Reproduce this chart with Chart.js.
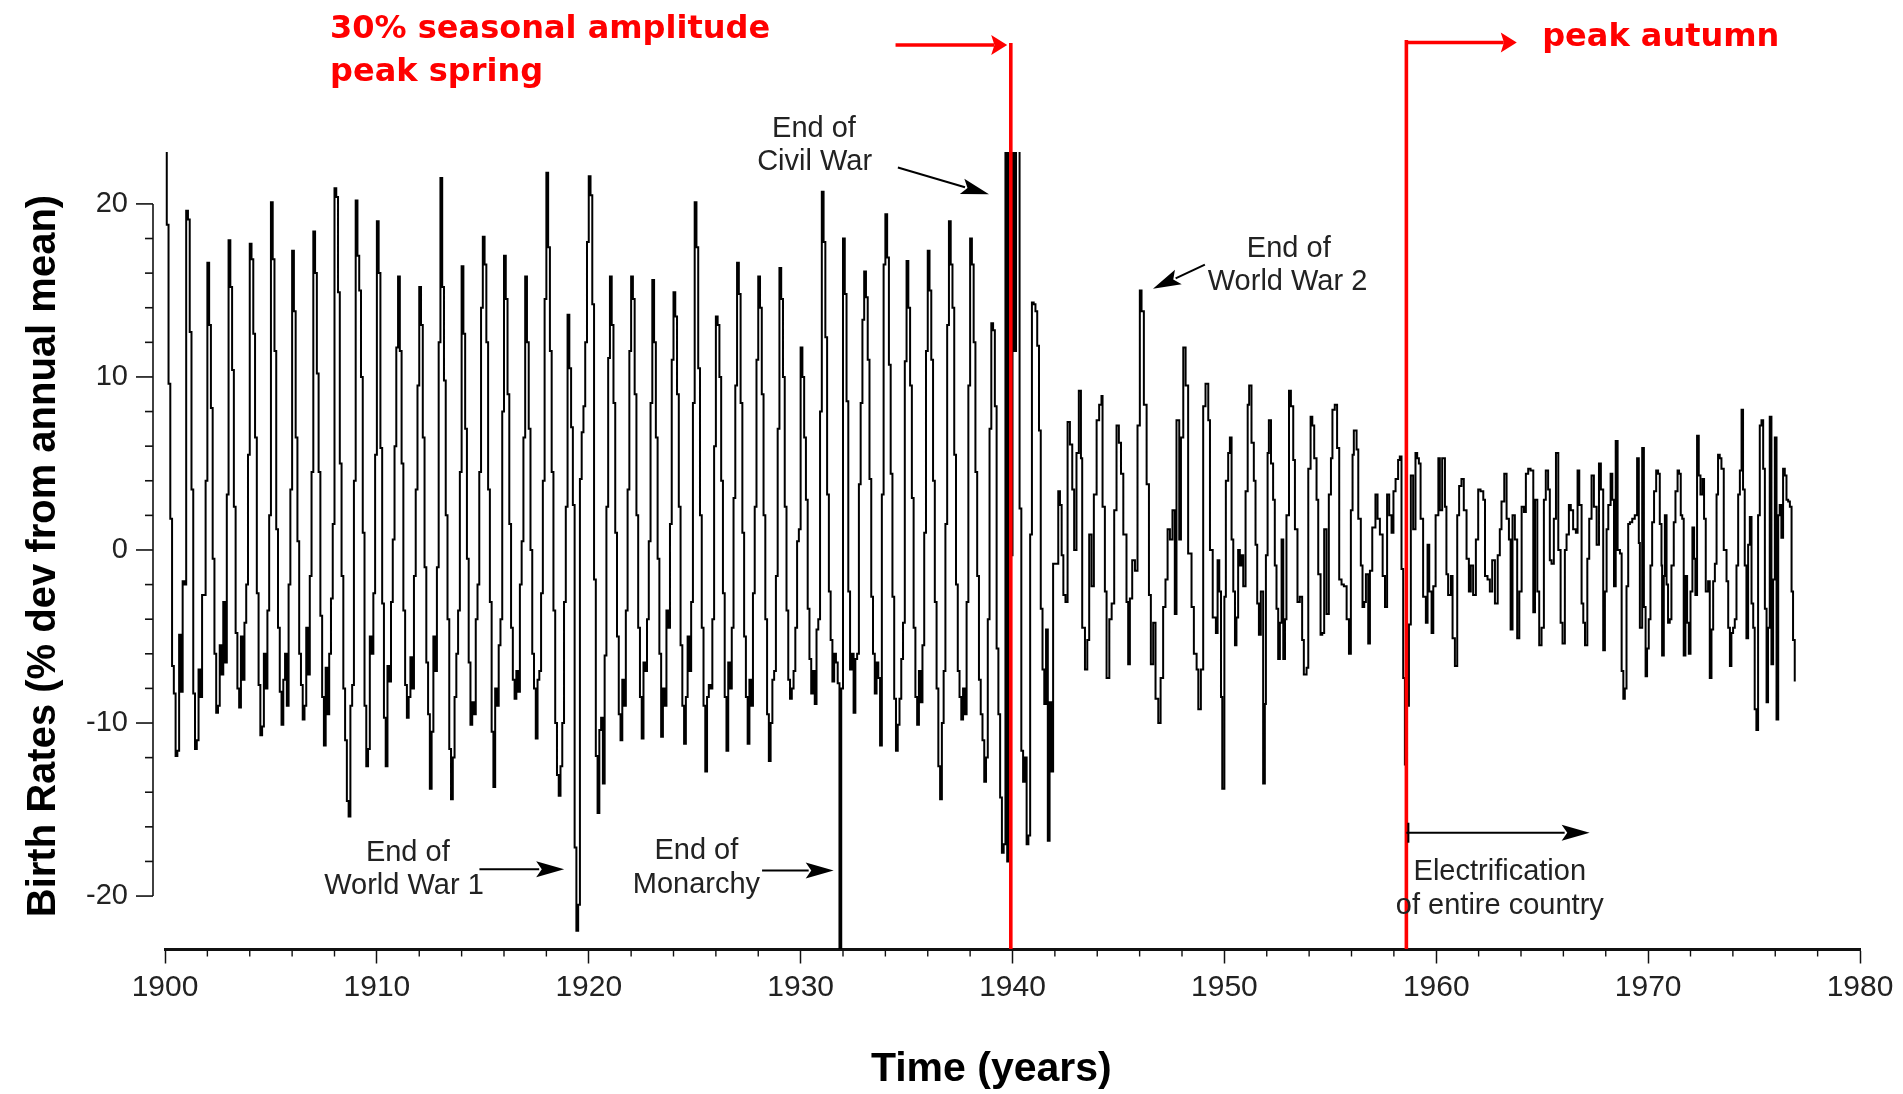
<!DOCTYPE html>
<html>
<head>
<meta charset="utf-8">
<script src="https://cdn.jsdelivr.net/npm/chart.js@4.4.1/dist/chart.umd.min.js"></script>
<style>
html,body{margin:0;padding:0;background:#fff;overflow:hidden;}
canvas{display:block;}
</style>
</head>
<body>
<canvas id="c" width="1903" height="1094"></canvas>
<script>
// ---------- DATA ----------
const START_YEAR = 1900; // monthly series 1900-01 .. 1941-12
const y1900s = [
  25, 18.8, 9.6, 1.8, -6.7, -8.3, -11.9, -11.6, -4.9, -8.2, -1.8, -2.0,
  19.6, 19.1, 12.6, 3.5, -8.3, -11.5, -11.0, -6.9, -8.5, -2.6, -2.6, 4.0,
  16.6, 13.0, 8.2, -0.5, -6.0, -9.4, -9.0, -5.5, -7.2, -3.0, -6.5, 3.2,
  17.9, 15.2, 10.4, 2.5, -4.8, -8.0, -9.1, -5.0, -7.5, -4.2, -2.0, 5.5,
  17.7, 16.8, 12.5, 6.5, -2.5, -7.8, -10.7, -10.2, -6.0, -8.0, -3.5, 2.0,
  20.1, 16.8, 11.5, 1.2, -4.5, -8.2, -10.1, -7.5, -6.0, -9.0, -2.0, 3.5,
  17.3, 13.8, 6.5, 0.5, -6.0, -7.8, -9.8, -9.0, -4.5, -7.2, -1.5, 4.5,
  18.4, 16.0, 10.2, 4.5, -3.8, -8.5, -11.3, -6.8, -9.5, -6.0, -2.8, 1.5,
  20.9, 20.4, 14.9, 5.0, -1.5, -8.0, -11.0, -14.5, -15.4, -9.0, -7.8, 4.0,
  20.2, 17.0, 15.0, 10.0, 1.0, -9.0, -12.5, -11.5, -5.0, -6.0, -2.5, 5.5
];
const y1910s = [
  19.0, 16.0, 5.9, -3.1, -9.7, -12.5, -6.7, -7.6, -3.0, 0.6, 6.0, 11.7,
  15.8, 11.5, 5.0, -3.5, -7.8, -9.7, -8.5, -6.2, -8.0, -1.5, 3.5, 9.5,
  15.2, 13.0, 6.5, -1.0, -6.5, -9.5, -13.8, -10.5, -5.0, -7.0, -1.0, 12.0,
  21.5, 15.2, 9.8, 2.0, -4.0, -11.5, -14.4, -12.0, -8.5, -6.0, -3.5, 4.5,
  16.4, 12.5, 7.0, -0.5, -6.5, -10.1, -8.8, -9.5, -4.0, -2.0, 4.5, 14.0,
  18.1, 16.5, 12.0, 3.5, -3.0, -10.5, -13.7, -8.0, -9.0, -5.5, -4.0, 8.0,
  17.0, 14.5, 9.0, 1.5, -4.5, -7.5, -8.6, -7.0, -8.2, -2.0, 0.5, 6.5,
  15.8, 12.0, 7.0, 0.0, -6.0, -8.0, -10.9, -7.5, -7.0, -2.5, 4.0, 14.5,
  21.8, 17.5, 11.5, 4.5, -3.5, -10.0, -13.0, -14.2, -12.5, -10.0, -3.0, 2.5,
  13.6, 10.5, 7.1, 2.6, -17.2, -22.0, -20.5, 4.1, 6.8, 8.3, 12.0, 17.8
];
const y1920s = [
  21.6, 20.5, 14.2, -1.7, -11.9, -15.2, -10.4, -9.7, -13.5, -6.1, 2.5, 11.1,
  15.8, 13.0, 8.5, 1.0, -5.0, -9.5, -11.0, -7.5, -9.0, -3.5, 3.5, 11.5,
  15.8, 14.5, 9.0, 2.0, -4.5, -8.5, -10.9, -6.5, -7.0, -4.0, 0.5, 8.5,
  15.6, 12.0, 6.5, -0.5, -6.0, -10.8, -8.0, -9.0, -3.5, -4.5, 1.5, 11.0,
  14.9, 13.5, 9.0, 2.5, -5.5, -9.0, -11.2, -8.5, -5.0, -7.0, -3.0, 8.5,
  20.1, 17.5, 10.5, 2.0, -4.5, -9.0, -12.8, -8.5, -7.8, -8.0, -4.0, 6.0,
  13.5, 13.0, 10.0, 4.0, -2.5, -8.5, -11.6, -6.5, -8.0, -4.5, 3.0, 9.5,
  16.6, 14.8, 8.5, 1.0, -5.0, -8.5, -11.2, -7.5, -9.0, -2.5, 2.5, 11.0,
  15.8, 14.0, 9.0, 2.0, -4.0, -9.5, -12.2, -10.0, -7.5, -7.0, -1.5, 7.0,
  16.3, 14.5, 10.0, 2.5, -3.5, -7.5, -8.6, -8.0, -7.0, -4.5, 0.5, 1.2
];
const y1930s = [
  11.7, 10.0, 6.5, 2.9, -3.4, -6.3, -8.3, -7.0, -8.9, -4.6, -4.0, 8.0,
  20.7, 17.8, 12.3, 3.2, -2.4, -5.2, -7.6, -6.0, -6.5, -7.7, -30, -8.0,
  18.0, 14.8, 8.6, -2.4, -6.9, -6.0, -9.4, -6.3, -6.0, 3.8, 8.5, 13.3,
  16.1, 14.6, 11.0, 4.1, -2.7, -6.0, -8.3, -6.5, -7.4, -11.3, 3.2, 16.5,
  19.4, 16.9, 10.7, 4.4, -2.7, -8.6, -11.6, -10.1, -8.6, -6.3, -4.2, 10.9,
  16.7, 14.0, 9.5, 3.0, -4.5, -8.5, -10.1, -7.0, -8.8, -5.5, 1.0, 11.5,
  17.3, 15.0, 11.0, 4.0, -3.0, -8.0, -12.5, -14.4, -10.0, -7.0, 1.5, 13.0,
  19.0, 16.5, 14.0, 5.5, -2.0, -7.0, -8.5, -9.8, -8.0, -9.5, -3.0, 9.5,
  18.0, 16.5, 12.0, 4.5, -1.5, -7.5, -9.5, -11.0, -13.4, -12.0, -4.0, 7.0,
  13.1, 12.7, 8.3, -5.7, -9.5, -14.3, -17.5, -17.0, 30, -18.0, 30, -0.3
];
const y1940s = [
  30, 11.5, 30, 30, 2.4, -11.6, -13.4, -12.0, -17.0, -16.5, 0.9, 14.3,
  14.2, 13.8, 11.8, 6.9, -3.4, -6.9, -8.9, -4.6, -16.8, -8.8, -12.8, -0.8
];
// 1942 onwards: readings at the time (fractional year) where each step starts
const lateYears = [
  1942.16,1942.24,1942.32,1942.40,1942.50,1942.60,1942.71,1942.82,1942.91,
  1943.02,1943.13,1943.23,1943.29,1943.42,1943.53,1943.62,1943.73,1943.84,1943.97,
  1944.09,1944.20,1944.25,1944.36,1944.44,1944.57,1944.68,1944.80,1944.91,
  1945.02,1945.12,1945.23,1945.38,1945.46,1945.54,1945.65,1945.78,1945.90,
  1946.01,1946.09,1946.20,1946.33,1946.44,1946.53,1946.64,1946.75,1946.88,1946.99,
  1947.11,1947.22,1947.32,1947.43,1947.55,1947.66,1947.74,1947.87,1947.95,
  1948.06,1948.17,1948.29,1948.45,1948.56,1948.69,1948.77,1948.89,
  1949.00,1949.11,1949.24,1949.32,1949.45,1949.60,1949.68,1949.76,1949.84,1949.90,
  1950.00,1950.07,1950.18,1950.26,1950.34,1950.42,1950.50,1950.57,1950.65,1950.73,1950.81,1950.89,
  1951.00,1951.10,1951.17,1951.28,1951.39,1951.47,1951.55,1951.63,1951.72,1951.83,1951.91,1951.96,
  1952.04,1952.10,1952.20,1952.30,1952.38,1952.46,1952.54,1952.62,1952.70,1952.78,1952.86,1952.93,
  1953.05,1953.14,1953.25,1953.33,1953.45,1953.56,1953.67,1953.75,1953.88,1953.96,
  1954.07,1954.15,1954.24,1954.35,1954.43,1954.54,1954.62,1954.71,1954.82,1954.93,
  1955.03,1955.10,1955.21,1955.32,1955.42,1955.53,1955.64,1955.77,1955.88,1955.97,
  1956.05,1956.11,1956.24,1956.32,1956.44,1956.52,1956.60,1956.68,1956.79,1956.87,1956.98,
  1957.13,1957.23,1957.34,1957.47,1957.58,1957.68,1957.78,1957.89,1957.98,
  1958.08,1958.20,1958.28,1958.36,1958.44,1958.52,1958.62,1958.71,1958.80,1958.91,
  1959.02,1959.10,1959.18,1959.26,1959.38,1959.51,1959.59,1959.67,1959.78,1959.86,1959.97,
  1960.10,1960.17,1960.28,1960.41,1960.48,1960.56,1960.69,1960.77,1960.88,1960.99,
  1961.08,1961.19,1961.30,1961.43,1961.54,1961.63,1961.74,1961.87,1961.98,
  1962.09,1962.22,1962.30,1962.42,1962.53,1962.64,1962.77,1962.90,
  1963.00,1963.08,1963.21,1963.32,1963.43,1963.51,1963.60,1963.71,1963.82,1963.92,
  1964.03,1964.14,1964.23,1964.34,1964.45,1964.58,1964.66,1964.77,1964.86,1964.97,
  1965.08,1965.17,1965.28,1965.36,1965.44,1965.55,1965.65,1965.76,1965.87,1965.96,
  1966.07,1966.15,1966.26,1966.35,1966.46,1966.59,1966.67,1966.75,1966.86,1966.94,
  1967.02,1967.13,1967.22,1967.33,1967.44,1967.57,1967.68,1967.77,1967.88,1967.96,
  1968.04,1968.12,1968.23,1968.31,1968.39,1968.47,1968.56,1968.67,1968.75,1968.83,1968.90,1968.98,
  1969.06,1969.14,1969.25,1969.37,1969.48,1969.56,1969.61,1969.72,1969.80,1969.88,1969.95,
  1970.03,1970.11,1970.19,1970.28,1970.38,1970.47,1970.55,1970.63,1970.66,1970.74,1970.79,1970.87,1970.94,
  1971.02,1971.10,1971.21,1971.29,1971.39,1971.46,1971.54,1971.61,1971.68,1971.76,1971.84,1971.92,
  1972.00,1972.09,1972.17,1972.23,1972.31,1972.39,1972.47,1972.57,1972.64,1972.72,1972.83,1972.91,1972.99,
  1973.07,1973.15,1973.23,1973.30,1973.38,1973.46,1973.57,1973.70,1973.78,1973.86,1973.93,
  1974.01,1974.09,1974.17,1974.25,1974.33,1974.41,1974.48,1974.56,1974.64,1974.72,1974.80,1974.88,1974.96,
  1975.03,1975.11,1975.19,1975.27,1975.35,1975.43,1975.51,1975.59,1975.66,1975.74,1975.82,1975.90,1975.98,
  1976.06,1976.14,1976.21,1976.29,1976.37,1976.45,1976.53,1976.61,1976.69,1976.77,1976.84,1976.92
];
const lateValues = [
  3.4,2.6,-0.3,-2.6,-3.0,7.4,6.1,3.5,0.0,
  5.6,9.2,5.3,-4.5,-6.9,-5.2,0.9,-2.1,3.2,7.5,
  8.4,8.9,2.5,-2.4,-7.4,-4.0,-3.1,2.3,7.2,
  6.2,4.4,0.9,-3.0,-6.6,-2.8,-0.6,-1.2,7.2,
  15.0,13.8,8.4,3.8,-2.6,-6.6,-4.2,-8.6,-10.0,-7.4,
  -3.3,-1.7,1.2,0.6,2.3,-3.7,7.5,0.6,6.5,
  11.7,9.5,-0.2,-3.3,-6.0,-6.9,-9.2,-6.9,
  8.3,9.6,7.5,0.0,-3.9,-4.8,-0.6,-2.4,-8.5,-13.8,
  -2.7,4.0,5.6,6.5,0.6,-2.4,-5.5,-3.9,0.0,-0.9,-0.3,-2.1,
  3.4,8.4,9.5,6.2,4.0,0.3,-3.1,-4.9,-2.4,-13.5,-8.9,-0.3,
  5.6,7.5,5.0,2.9,-0.9,-3.4,-6.3,-4.2,0.6,-6.3,-4.0,2.0,
  9.2,8.3,5.2,1.2,-3.0,-2.7,-5.2,-7.2,-6.8,4.7,
  7.7,7.2,5.3,2.9,-1.4,-4.9,-4.8,1.2,-3.7,3.2,
  5.3,8.1,8.4,5.9,-1.7,-2.0,-2.1,-4.0,-6.0,2.3,
  5.5,6.9,5.8,1.8,-0.9,-3.3,-3.0,-1.4,-5.4,-1.2,1.3,
  3.2,1.8,0.9,-1.5,-3.3,3.2,2.0,1.0,3.4,
  4.1,5.2,5.4,-1.1,-7.4,-12.4,-9.0,-4.3,4.3,1.2,
  5.6,5.3,5.0,1.8,-2.7,-4.2,0.3,-2.4,-4.8,-2.1,2.0,
  5.3,2.3,5.3,2.5,-1.4,-2.6,-1.5,-5.1,-6.7,2.0,
  3.7,4.1,2.3,-0.5,-2.4,-0.9,-2.6,0.6,3.5,
  3.4,2.9,-1.5,-1.7,-2.4,-0.6,-3.1,-0.3,
  1.2,2.8,4.4,1.8,0.6,-4.6,2.0,0.6,-5.1,-2.4,
  2.5,2.2,4.4,4.7,4.6,-3.6,2.9,-2.4,-5.5,-4.5,
  2.9,4.6,3.5,-0.6,-0.8,1.8,5.6,0.0,-4.2,-5.4,
  0.0,0.9,2.6,2.3,1.2,1.0,4.6,2.6,-3.1,-4.2,
  -5.5,-0.5,1.8,4.3,2.5,0.3,5.0,3.5,-5.8,-2.4,
  1.2,2.6,4.4,2.9,-2.1,6.3,0.0,-0.2,-7.0,-8.6,-8.0,-2.1,
  1.5,1.6,1.8,2.0,5.3,0.4,-4.5,5.9,-3.3,-7.3,-5.7,
  -4.0,-0.9,1.6,3.4,4.6,4.4,1.5,-0.9,-6.1,-1.5,2.0,-2.0,-4.2,
  -4.0,-0.9,1.6,3.4,4.6,4.4,2.0,1.8,-6.1,-1.5,-4.2,-6.0,
  -2.4,1.3,-0.5,-2.6,6.6,4.3,3.2,4.1,1.8,-2.4,-1.8,-7.4,-4.6,
  -1.8,-0.8,3.2,5.5,5.3,4.7,0.0,-1.8,-4.5,-6.7,-4.8,
  -4.5,-4.0,-0.9,3.2,4.6,8.1,3.5,-0.9,-5.1,0.3,1.9,-3.1,-4.5,
  -9.2,-10.4,2.0,7.2,7.5,4.7,-3.4,-8.8,-4.5,7.7,-6.6,-1.7,6.5,
  -9.8,2.0,2.6,0.7,4.7,4.3,2.9,2.8,2.5,-2.4,-5.2,-7.6
];
const xTickYears = [1900, 1910, 1920, 1930, 1940, 1950, 1960, 1970, 1980];
const yTickValues = [-20, -10, 0, 10, 20];

// ---------- annotation texts (positions in data units: year, % value) ----------
const blackNotes = [
  {text: 'End of', year: 1930.63, value: 24.35},
  {text: 'Civil War', year: 1930.66, value: 22.4},
  {text: 'End of', year: 1953.04, value: 17.4},
  {text: 'World War 2', year: 1952.98, value: 15.5},
  {text: 'End of', year: 1911.46, value: -17.54},
  {text: 'World War 1', year: 1911.28, value: -19.43},
  {text: 'End of', year: 1925.08, value: -17.39},
  {text: 'Monarchy', year: 1925.08, value: -19.36},
  {text: 'Electrification', year: 1963.0, value: -18.59},
  {text: 'of entire country', year: 1963.0, value: -20.55}
];
const blackArrows = [
  {from: [1934.59, 22.1], to: [1938.89, 20.56]},
  {from: [1949.08, 16.49], to: [1946.63, 15.09]},
  {from: [1914.84, -18.45], to: [1918.84, -18.45]},
  {from: [1928.18, -18.52], to: [1931.56, -18.52]},
  {from: [1958.59, -16.34], to: [1967.24, -16.34], startBar: true}
];
const redLines = [ {year: 1939.92, top: 29.3}, {year: 1958.59, top: 29.47} ];
const redArrows = [
  {from: [1934.48, 29.18], to: [1939.75, 29.18]},
  {from: [1958.59, 29.33], to: [1963.8, 29.33]}
];
const redNotes = [
  {text: '30% seasonal amplitude', year: 1907.79, value: 29.61},
  {text: 'peak spring', year: 1907.79, value: 27.1},
  {text: 'peak autumn', year: 1965.0, value: 29.12}
];

// ---------- build points ----------
const monthly = [].concat(y1900s, y1910s, y1920s, y1930s, y1940s);
const points = monthly.map((v, i) => ({x: START_YEAR + i / 12, y: v}));
lateYears.forEach((t, i) => points.push({x: t, y: lateValues[i]}));

// ---------- helpers ----------
function drawArrow(ctx, x1, y1, x2, y2, color, width, headLen, headHalf) {
  const ang = Math.atan2(y2 - y1, x2 - x1);
  const c = Math.cos(ang), s = Math.sin(ang);
  const bx = x2 - headLen * c, by = y2 - headLen * s;
  ctx.save();
  ctx.strokeStyle = color; ctx.fillStyle = color; ctx.lineWidth = width;
  ctx.beginPath(); ctx.moveTo(x1, y1); ctx.lineTo(bx + 3 * c, by + 3 * s); ctx.stroke();
  ctx.beginPath();
  ctx.moveTo(x2, y2);
  ctx.lineTo(bx - headHalf * s, by + headHalf * c);
  ctx.lineTo(bx + headLen * 0.2 * c, by + headLen * 0.2 * s);
  ctx.lineTo(bx + headHalf * s, by - headHalf * c);
  ctx.closePath(); ctx.fill();
  ctx.restore();
}

const decorPlugin = {
  id: 'decor',
  beforeDraw(chart) {
    const ctx = chart.ctx;
    ctx.save(); ctx.fillStyle = '#fff'; ctx.fillRect(0, 0, chart.width, chart.height); ctx.restore();
  },
  afterDraw(chart) {
    const ctx = chart.ctx, xs = chart.scales.x, ys = chart.scales.y, a = chart.chartArea;
    const X = v => xs.getPixelForValue(v), Y = v => ys.getPixelForValue(v);
    ctx.save();
    // y axis line + ticks (offset left of the plot)
    const ax = a.left - 12;
    ctx.strokeStyle = '#111'; ctx.lineWidth = 1.6;
    ctx.beginPath(); ctx.moveTo(ax, Y(20)); ctx.lineTo(ax, Y(-20)); ctx.stroke();
    for (let v = -20; v <= 20; v += 2) {
      const len = (v % 10 === 0) ? 17 : 8;
      ctx.beginPath(); ctx.moveTo(ax, Y(v)); ctx.lineTo(ax - len, Y(v)); ctx.stroke();
    }
    // x minor ticks
    ctx.lineWidth = 1.4;
    for (let yr = 1902; yr < 1980; yr += 2) {
      if (yr % 10 === 0) continue;
      ctx.beginPath(); ctx.moveTo(X(yr), a.bottom); ctx.lineTo(X(yr), a.bottom + 7.5); ctx.stroke();
    }
    // red vertical lines
    ctx.strokeStyle = '#ff0000'; ctx.lineWidth = 3.6;
    redLines.forEach(r => {
      ctx.beginPath(); ctx.moveTo(X(r.year), Y(r.top)); ctx.lineTo(X(r.year), a.bottom); ctx.stroke();
    });
    redArrows.forEach(r => drawArrow(ctx, X(r.from[0]), Y(r.from[1]), X(r.to[0]), Y(r.to[1]), '#ff0000', 3.6, 16, 10));
    // red notes
    ctx.fillStyle = '#ff0000';
    ctx.font = 'bold 32px "DejaVu Sans"';
    ctx.textAlign = 'left'; ctx.textBaseline = 'alphabetic';
    redNotes.forEach(n => ctx.fillText(n.text, X(n.year), Y(n.value)));
    // black arrows
    blackArrows.forEach(r => {
      const x1 = X(r.from[0]), y1 = Y(r.from[1]), x2 = X(r.to[0]), y2 = Y(r.to[1]);
      drawArrow(ctx, x1, y1, x2, y2, '#000', 2, 28, 8);
      if (r.startBar) {
        ctx.strokeStyle = '#000'; ctx.lineWidth = 2;
        ctx.beginPath(); ctx.moveTo(x1 + 2, y1 - 10); ctx.lineTo(x1 + 2, y1 + 10); ctx.stroke();
      }
    });
    // black notes
    ctx.fillStyle = '#222';
    ctx.font = '29px "Liberation Sans"';
    ctx.textAlign = 'center'; ctx.textBaseline = 'middle';
    blackNotes.forEach(n => ctx.fillText(n.text, X(n.year), Y(n.value)));
    // axis titles
    ctx.fillStyle = '#000';
    ctx.font = 'bold 41px "Liberation Sans"';
    ctx.textAlign = 'center'; ctx.textBaseline = 'middle';
    ctx.fillText('Time (years)', X(1939.0), a.bottom + 121);
    ctx.save();
    ctx.translate(a.left - 121, Y(-0.35));
    ctx.rotate(-Math.PI / 2);
    ctx.font = 'bold 40px "Liberation Sans"';
    ctx.fillText('Birth Rates (% dev from annual mean)', 0, 0);
    ctx.restore();
    ctx.restore();
  }
};

new Chart(document.getElementById('c'), {
  type: 'line',
  data: {
    datasets: [{
      data: points,
      borderColor: '#000',
      borderWidth: 2,
      pointRadius: 0,
      stepped: true,
      fill: false,
      tension: 0,
      clip: 0
    }]
  },
  options: {
    responsive: false,
    animation: false,
    devicePixelRatio: 1,
    events: [],
    layout: { padding: { left: 0, right: 43, top: 152, bottom: 0 } },
    plugins: { legend: { display: false }, tooltip: { enabled: false }, title: { display: false } },
    scales: {
      x: {
        type: 'linear', min: 1900, max: 1980,
        afterBuildTicks: s => { s.ticks = xTickYears.map(v => ({value: v})); },
        ticks: { color: '#222', font: { family: 'Liberation Sans', size: 30 }, padding: 6, maxRotation: 0, autoSkip: false,
                 callback: v => String(v) },
        grid: { drawOnChartArea: false, drawTicks: true, tickLength: 14.5, tickColor: '#111', tickWidth: 1.5 },
        border: { display: true, color: '#111', width: 3 },
        afterFit: s => { s.height = 145; }
      },
      y: {
        type: 'linear', min: -23.06, max: 23,
        afterBuildTicks: s => { s.ticks = yTickValues.map(v => ({value: v})); },
        ticks: { color: '#222', font: { family: 'Liberation Sans', size: 29 }, padding: 8, callback: v => String(v) },
        grid: { drawOnChartArea: false, drawTicks: true, tickLength: 29, tickColor: 'rgba(0,0,0,0)' },
        border: { display: false },
        afterFit: s => { s.width = 165; }
      }
    }
  },
  plugins: [decorPlugin]
});
</script>
</body>
</html>
